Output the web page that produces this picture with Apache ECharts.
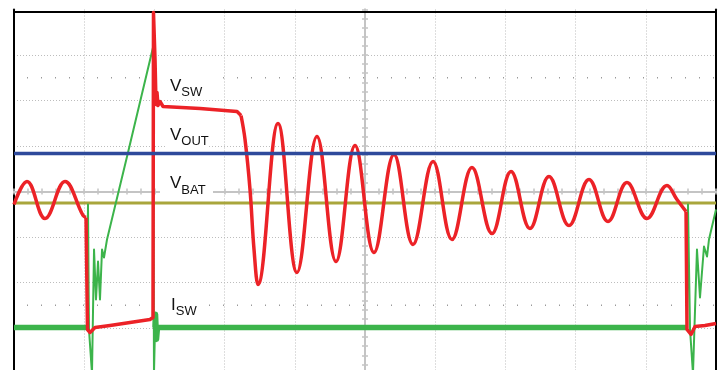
<!DOCTYPE html>
<html>
<head>
<meta charset="utf-8">
<script src="https://cdn.jsdelivr.net/npm/echarts@6/dist/echarts.min.js"></script>
<style>
  html, body { margin: 0; padding: 0; background: #fff; overflow: hidden; }
  /* the screen continues a few pixels below the visible window */
  #scope { width: 722px; height: 376px; }
</style>
</head>
<body>
<div id="scope"></div>
<script>
// Scope capture: x and y in 1/100 of a screen division (10 x 8 divisions, centre = 0,0)

// V_SW before the switch turns on
const vswLeft = [[-500,-28.6],[-481.5,22],[-455.8,-59.3],[-427.4,22],[-401.7,-52.7],[-397.4,-57.1]];
// V_SW on-time, turn-off spike and plateau
const vswPulse = [[-397.4,-57.1],[-395.3,-303.3],[-391.7,-309.9],[-384.6,-298.9],[-363.2,-294.5],
  [-334.8,-287.9],[-306.3,-281.3],[-302.0,-276.9],[-301.3,393.4],[-299.1,290.1],[-297.7,191.2],
  [-296.3,217.6],[-294.9,189.0],[-292.0,197.8],[-287.7,186.8],[-235.0,182.4],[-182.3,175.8],[-176.6,167.0]];
// V_SW ringing after the inductor current reaches zero
const vswRing = [[-176.6,167.0],[-170.9,114.3],[-163.8,4.4],[-158.1,-127.5],[-152.4,-204.4],
  [-123.9,149.5],[-96.9,-178.0],[-68.4,120.9],[-41.3,-153.8],[-14.2,101.1],[12.8,-134.1],
  [41.3,81.3],[68.4,-116.5],[96.9,65.9],[123.9,-105.5],[152.4,52.7],[180.9,-92.3],[208.0,44.0],
  [235.0,-81.3],[262.1,33.0],[290.6,-74.7],[319.1,26.4],[346.2,-65.9],[373.2,19.8],[401.7,-59.3],
  [430.2,13.2],[444.4,-17.6],[457.3,-44.0]];
// V_SW at the next switch-on
const vswTail = [[457.3,-44.0],[458.7,-303.3],[464.4,-314.3],[470.1,-296.7],[484.3,-294.5],[500,-290.1]];

// I_SW idle level
const iswFlatA = [[-500,-298.9],[-396.0,-298.9]];
const iswFlatB = [[-299.1,-298.9],[-298.4,-270],[-297.0,-325],[-295.6,-298.9],[458.7,-298.9]];
// I_SW switching edges and current ramp
const iswEdgeA = [[-396.0,-298.9],[-394.6,-28.6],[-393.2,-303.3],[-388.9,-400],[-386.0,-127.5],
  [-383.2,-237.4],[-380.3,-153.8],[-377.5,-237.4],[-374.6,-127.5],[-371.8,-145.1],[-367.5,-105.5],
  [-337.6,85.7],[-302.0,316.5],[-300.6,-400],[-299.1,-298.9]];
const iswEdgeB = [[458.7,-298.9],[460.1,-28.6],[463.0,-303.3],[467.2,-400],[472.9,-127.5],
  [477.2,-233],[482.9,-120.9],[487.2,-142.9],[490.0,-105.5],[500,-39.6]];

// DC levels
const vout = [[-500,83.5],[500,83.5]];
const vbat = [[-500,-25],[500,-25]];

// Half-division marker rows
const guideRows = [250, -250];

// Trace labels: main letter, subscript
const traceLabels = [
  { main: 'V', sub: 'SW' },
  { main: 'V', sub: 'OUT' },
  { main: 'V', sub: 'BAT' },
  { main: 'I', sub: 'SW' }
];

const RED = '#ec2227', GREEN = '#3cb44b', BLUE = '#2e4a9b', OLIVE = '#a9a63c';
const AXIS_GRAY = '#c4c4c4', GRID_GRAY = '#bdbdbd';
const FONT = '"Liberation Sans", Arial, sans-serif';

const chart = echarts.init(document.getElementById('scope'), null, { renderer: 'canvas' });

const centreTicks = (inside) => ({
  show: true, inside: inside, length: 3, lineStyle: { color: AXIS_GRAY, width: 1.5 }
});
const centreMinor = { show: true, splitNumber: 5, length: 3, lineStyle: { color: AXIS_GRAY, width: 1.5 } };
const dotted = { show: true, showMinLine: false, showMaxLine: false,
  lineStyle: { color: GRID_GRAY, type: [1, 2], width: 1 } };
const off = { show: false };

function lineSeries(name, data, color, width, z, smooth) {
  return {
    name: name, type: 'line', data: data, showSymbol: false, symbol: 'none',
    smooth: smooth || false, z: z, silent: true,
    lineStyle: { color: color, width: width, join: 'round' }
  };
}

// label layout: left edge, middle of main letter, middle of subscript, backing box
const labelPlaces = [
  { x: 170, ym: 86.1, ys: 92.5, box: [160, 76, 62, 24] },
  { x: 170, ym: 135.1, ys: 141.5, box: [166, 126, 43, 22] },
  { x: 170, ym: 183.6, ys: 190, box: [160, 176, 53, 22] },
  { x: 171, ym: 305.1, ys: 311, box: [166, 296, 32, 22] }
];

const graphics = [];
const measure = document.createElement('canvas').getContext('2d');
traceLabels.forEach((lab, i) => {
  const p = labelPlaces[i];
  const mainSize = 17, subSize = 13;
  graphics.push({
    type: 'rect', z: 1, silent: true,
    shape: { x: p.box[0], y: p.box[1], width: p.box[2], height: p.box[3] },
    style: { fill: '#ffffff' }
  });
  measure.font = mainSize + 'px ' + FONT;
  const w = measure.measureText(lab.main).width;
  graphics.push({
    type: 'text', z: 3, silent: true, x: p.x, y: p.ym,
    style: { text: lab.main, font: mainSize + 'px ' + FONT, fill: '#111', align: 'left', verticalAlign: 'middle' }
  });
  graphics.push({
    type: 'text', z: 3, silent: true, x: p.x + w, y: p.ys,
    style: { text: lab.sub, font: subSize + 'px ' + FONT, fill: '#111', align: 'left', verticalAlign: 'middle' }
  });
});

const option = {
  animation: false,
  backgroundColor: '#ffffff',
  grid: { left: 14, right: 6, top: 9.5, bottom: 2.5, containLabel: false },
  xAxis: [
    { type: 'value', min: -500, max: 500, interval: 100, position: 'bottom',
      axisLine: { onZero: true, onZeroAxisIndex: 0, lineStyle: { color: AXIS_GRAY, width: 2 } },
      axisTick: centreTicks(false), minorTick: centreMinor, axisLabel: off, splitLine: dotted },
    { type: 'value', min: -500, max: 500, interval: 100, position: 'bottom',
      axisLine: { onZero: true, onZeroAxisIndex: 0, lineStyle: { color: AXIS_GRAY, width: 2 } },
      axisTick: centreTicks(true), minorTick: centreMinor, axisLabel: off, splitLine: off },
    { type: 'value', min: -500, max: 500, position: 'top', offset: -2.5,
      axisLine: { onZero: false, lineStyle: { color: '#000', width: 2 } },
      axisTick: off, axisLabel: off, splitLine: off }
  ],
  yAxis: [
    { type: 'value', min: -400, max: 400, interval: 100, position: 'left',
      axisLine: { onZero: true, onZeroAxisIndex: 0, lineStyle: { color: AXIS_GRAY, width: 2 } },
      axisTick: centreTicks(false), minorTick: centreMinor, axisLabel: off, splitLine: dotted },
    { type: 'value', min: -400, max: 400, interval: 100, position: 'left',
      axisLine: { onZero: true, onZeroAxisIndex: 0, lineStyle: { color: AXIS_GRAY, width: 2 } },
      axisTick: centreTicks(true), minorTick: centreMinor, axisLabel: off, splitLine: off },
    { type: 'value', min: -400, max: 400, position: 'left',
      axisLine: { onZero: false, lineStyle: { color: '#000', width: 2 } },
      axisTick: off, axisLabel: off, splitLine: off },
    { type: 'value', min: -400, max: 400, position: 'right',
      axisLine: { onZero: false, lineStyle: { color: '#000', width: 2 } },
      axisTick: off, axisLabel: off, splitLine: off }
  ],
  graphic: { elements: graphics },
  series: [
    ...guideRows.map((v, i) => ({
      name: 'row' + i, type: 'line', data: [[-500, v], [500, v]], symbol: 'none', silent: true, z: 0.5,
      lineStyle: { color: '#999', width: 1.5, type: [1, 13], dashOffset: 1 }
    })),
    lineSeries('VBAT', vbat, OLIVE, 3, 4),
    lineSeries('ISW', iswFlatA, GREEN, 5.5, 5),
    lineSeries('ISW ', iswFlatB, GREEN, 5.5, 5),
    lineSeries('ISW edge', iswEdgeA, GREEN, 2, 5),
    lineSeries('ISW edge ', iswEdgeB, GREEN, 2, 5),
    lineSeries('VSW', vswLeft, RED, 3.5, 6, 0.4),
    lineSeries('VSW ', vswPulse, RED, 3.5, 6),
    lineSeries('VSW ring', vswRing, RED, 3.5, 6, 0.4),
    lineSeries('VSW tail', vswTail, RED, 3.5, 6),
    lineSeries('VOUT', vout, BLUE, 3.5, 7)
  ]
};

chart.setOption(option);
</script>
</body>
</html>
